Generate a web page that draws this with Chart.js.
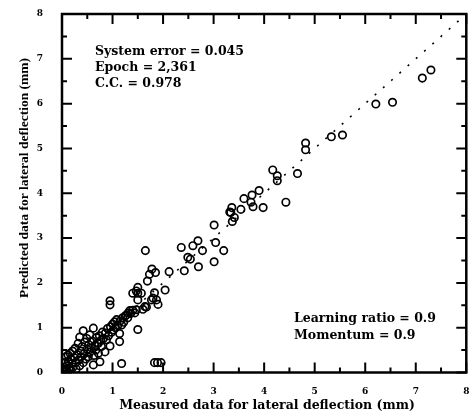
<!DOCTYPE html>
<html>
<head>
<meta charset="utf-8">
<script src="https://cdn.jsdelivr.net/npm/chart.js@4.4.1/dist/chart.umd.min.js"></script>
<style>
  html, body { margin: 0; background: #fff; overflow: hidden; }
  canvas { display: block; }
</style>
</head>
<body>
<!-- un poco más ancho que la ventana: el "8" del eje x queda cortado como en la figura -->
<canvas id="deflexion" width="472" height="417"></canvas>
<script>
const medidos = [
  0.02, 0.04, 0.05, 0.06, 0.08, 0.08, 0.10, 0.10, 0.12, 0.13, 0.15, 0.16, 0.17, 0.18, 0.20, 0.21,
  0.22, 0.24, 0.26, 0.27, 0.28, 0.30, 0.32, 0.33, 0.35, 0.35, 0.37, 0.38, 0.40, 0.42, 0.42, 0.44,
  0.45, 0.47, 0.49, 0.50, 0.52, 0.53, 0.55, 0.55, 0.58, 0.60, 0.62, 0.62, 0.63, 0.65, 0.67, 0.68,
  0.70, 0.72, 0.72, 0.74, 0.75, 0.77, 0.78, 0.80, 0.82, 0.85, 0.86, 0.88, 0.90, 0.92, 0.95, 0.96,
  0.98, 1.00, 1.02, 1.04, 1.06, 1.08, 1.10, 1.14, 1.14, 1.15, 1.18, 1.20, 1.22, 1.25, 1.27, 1.30,
  1.31, 1.34, 1.36, 1.40, 1.44, 1.47,
  1.50, 1.18, 1.83, 1.89, 1.96, 0.95, 0.95, 1.64, 1.67, 1.60, 1.50, 1.47, 1.50, 1.40, 1.57, 1.50,
  1.83, 1.80, 1.77, 1.87, 1.90, 2.04, 1.65, 1.78, 1.73, 1.85, 1.69, 2.12,
  2.36, 2.49, 2.54, 2.59, 2.69, 2.78, 2.42, 2.70, 3.01, 3.04, 3.01, 3.20, 3.34, 3.37, 3.32, 3.41,
  3.36, 3.54, 3.60, 3.76, 3.74, 3.78, 3.98, 3.90, 4.17, 4.26, 4.26, 4.43, 4.66, 4.82, 4.82, 5.33,
  5.55, 6.21, 6.54, 7.13, 7.30
];
const predichos = [
  0.05, 0.12, 0.02, 0.22, 0.08, 0.35, 0.15, 0.03, 0.39, 0.25, 0.10, 0.43, 0.30, 0.05, 0.20, 0.48,
  0.12, 0.33, 0.54, 0.22, 0.08, 0.40, 0.65, 0.28, 0.79, 0.15, 0.48, 0.35, 0.58, 0.93, 0.22, 0.42,
  0.68, 0.30, 0.76, 0.52, 0.35, 0.62, 0.84, 0.45, 0.55, 0.70, 0.99, 0.17, 0.38, 0.60, 0.50, 0.78,
  0.66, 0.43, 0.65, 0.82, 0.24, 0.72, 0.58, 0.90, 0.76, 0.46, 0.88, 0.73, 0.98, 0.82, 0.59, 1.02,
  0.90, 1.08, 0.95, 1.13, 1.00, 1.18, 1.05, 0.87, 0.69, 1.15, 1.06, 1.22, 1.12, 1.26, 1.28, 1.22,
  1.33, 1.38, 1.32, 1.39, 1.33, 1.40,
  0.96, 0.20, 0.22, 0.22, 0.22, 1.60, 1.51, 1.47, 1.46, 1.41, 1.90, 1.82, 1.77, 1.77, 1.77, 1.62,
  1.78, 1.66, 1.62, 1.62, 1.52, 1.84, 2.72, 2.31, 2.19, 2.23, 2.04, 2.25,
  2.79, 2.57, 2.53, 2.83, 2.94, 2.72, 2.27, 2.36, 3.29, 2.90, 2.47, 2.72, 3.57, 3.37, 3.58, 3.46,
  3.68, 3.64, 3.88, 3.96, 3.80, 3.70, 3.68, 4.06, 4.52, 4.39, 4.28, 3.80, 4.44, 5.12, 4.97, 5.26,
  5.30, 5.99, 6.03, 6.57, 6.75
];
const linea_ideal = [0, 8];
const marcas_mayores = [0, 1, 2, 3, 4, 5, 6, 7, 8];
const marcas_menores = [0.5, 1.5, 2.5, 3.5, 4.5, 5.5, 6.5, 7.5];
const textos_arriba = ["System error = 0.045", "Epoch = 2,361", "C.C. = 0.978"];
const textos_abajo = ["Learning ratio = 0.9", "Momentum = 0.9"];
const titulo_x = "Measured data for lateral deflection (mm)";
const titulo_y = "Predicted data for lateral deflection (mm)";

const puntos = medidos.map((m, i) => ({ x: m, y: predichos[i] }));

const plugin_marco = {
  id: "marco",
  afterDraw: (chart) => {
    const ctx = chart.ctx;
    const a = chart.chartArea;
    const sx = chart.scales.x;
    const sy = chart.scales.y;
    ctx.save();
    ctx.strokeStyle = "#000";
    ctx.fillStyle = "#000";

    // marco
    ctx.lineWidth = 2.5;
    ctx.strokeRect(a.left, a.top, a.right - a.left, a.bottom - a.top);

    // marcas hacia adentro en los cuatro lados
    ctx.lineWidth = 2;
    const marcar = (vals, largo) => {
      vals.forEach((v) => {
        const px = sx.getPixelForValue(v);
        const py = sy.getPixelForValue(v);
        ctx.beginPath();
        ctx.moveTo(px, a.bottom); ctx.lineTo(px, a.bottom - largo);
        ctx.moveTo(px, a.top); ctx.lineTo(px, a.top + largo);
        ctx.moveTo(a.left, py); ctx.lineTo(a.left + largo, py);
        ctx.moveTo(a.right, py); ctx.lineTo(a.right - largo, py);
        ctx.stroke();
      });
    };
    marcar(marcas_mayores, 10);
    marcar(marcas_menores, 5);

    // textos dentro del gráfico
    ctx.font = "bold 12.5px 'DejaVu Serif'";
    ctx.textAlign = "left";
    ctx.textBaseline = "middle";
    textos_arriba.forEach((t, i) => ctx.fillText(t, 95, 52 + i * 15.8));
    textos_abajo.forEach((t, i) => ctx.fillText(t, 294, 319 + i * 16.5));

    // títulos de ejes
    ctx.textAlign = "center";
    ctx.fillText(titulo_x, 267, 406);
    ctx.font = "bold 13.5px 'Liberation Serif'";
    ctx.translate(25, 178);
    ctx.rotate(-Math.PI / 2);
    ctx.fillText(titulo_y, 0, 0);
    ctx.restore();
  },
};

const fuente_ticks = { family: "DejaVu Serif", size: 9, weight: "bold" };

const ctx = document.getElementById("deflexion").getContext("2d");
const chart_deflexion = new Chart(ctx, {
  type: "scatter",
  data: {
    datasets: [
      {
        label: "Datos",
        data: puntos,
        pointStyle: "circle",
        pointRadius: 3.7,
        pointBorderWidth: 1.7,
        borderColor: "#000",
        backgroundColor: "rgba(0,0,0,0)",
      },
      {
        type: "line",
        label: "Ideal",
        data: linea_ideal.map((v) => ({ x: v, y: v })),
        borderColor: "#000",
        borderWidth: 1.6,
        borderDash: [2, 9],
        pointRadius: 0,
        fill: false,
      },
    ],
  },
  options: {
    responsive: false,
    animation: false,
    layout: { padding: { top: 14, right: 0, left: 0, bottom: 0 } },
    plugins: {
      legend: { display: false },
      tooltip: { enabled: false },
    },
    scales: {
      x: {
        type: "linear",
        min: 0,
        max: 8,
        ticks: { stepSize: 1, color: "#000", font: fuente_ticks, padding: 14 },
        grid: { display: false, drawTicks: false },
        border: { display: false },
        afterFit: (scale) => {
          scale.height = 44.5;
          scale.paddingRight = 0;
        },
      },
      y: {
        type: "linear",
        min: 0,
        max: 8,
        ticks: { stepSize: 1, color: "#000", font: fuente_ticks, padding: 19 },
        grid: { display: false, drawTicks: false },
        border: { display: false },
        afterFit: (scale) => {
          scale.width = 62;
          scale.paddingTop = 0;
        },
      },
    },
  },
  plugins: [plugin_marco],
});
</script>
</body>
</html>
